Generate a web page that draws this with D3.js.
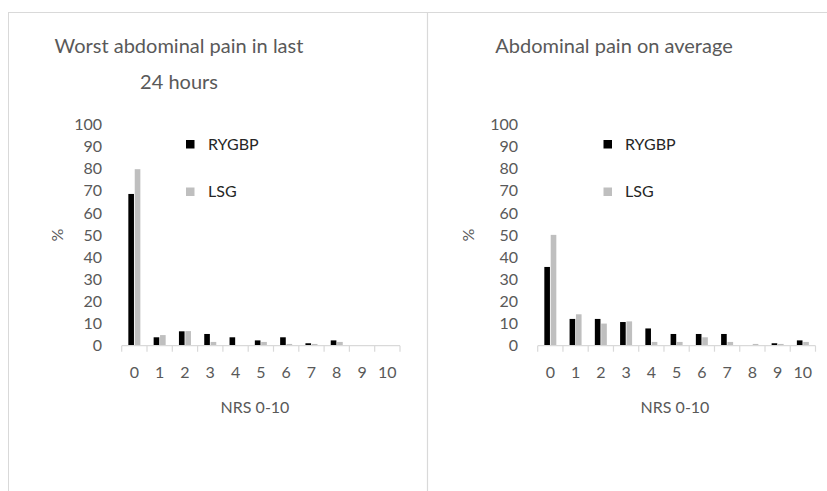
<!DOCTYPE html>
<html>
<head>
<meta charset="utf-8">
<script src="https://cdn.jsdelivr.net/npm/d3@7"></script>
<style>
  body { margin: 0; background: #fff; }
  svg { display: block; }
  text { font-family: Lato, "Open Sans", sans-serif; }
</style>
</head>
<body>
<svg id="chart" width="827" height="491"></svg>
<script>
// ---- Data ----
const categories = ["0","1","2","3","4","5","6","7","8","9","10"];
const seriesNames = ["RYGBP", "LSG"];
const worstRYGBP = [68.6, 3.8, 6.5, 5.3, 3.8, 2.4, 3.8, 1.1, 2.4, 0, 0];
const worstLSG   = [79.8, 4.8, 6.6, 1.7, 0, 1.7, 0.8, 0.8, 1.7, 0, 0];
const avgRYGBP   = [35.6, 12.1, 12.1, 10.7, 7.8, 5.3, 5.3, 5.3, 0, 1.1, 2.4];
const avgLSG     = [50.1, 14.2, 10.0, 11.0, 1.7, 1.7, 3.8, 1.7, 0.8, 0.8, 1.7];
const yTicks = [0,10,20,30,40,50,60,70,80,90,100];
const titles = [["Worst abdominal pain in last", "24 hours"], ["Abdominal pain on average"]];
const xTitle = "NRS 0-10";
const yTitle = "%";

const colors = { RYGBP: "#000000", LSG: "#bfbfbf" };

const svg = d3.select("#chart");

// Frame
svg.append("rect").attr("x", 8.5).attr("y", 12.5).attr("width", 840).attr("height", 500)
  .attr("fill", "none").attr("stroke", "#d9d9d9").attr("stroke-width", 1);
svg.append("line").attr("x1", 427.5).attr("x2", 427.5).attr("y1", 12.5).attr("y2", 491)
  .attr("stroke", "#d9d9d9").attr("stroke-width", 1.2);

const panels = [
  { x0: 121.7, x1: 400, titleX: 179, yLabX: 102, pctX: 57, legSq: 186, legTx: 208, series: [worstRYGBP, worstLSG], title: titles[0], xTitleX: 255 },
  { x0: 537.7, x1: 815.5, titleX: 614, yLabX: 518, pctX: 468, legSq: 603.5, legTx: 625, series: [avgRYGBP, avgLSG], title: titles[1], xTitleX: 675 }
];

const y = d3.scaleLinear().domain([0, 100]).range([345.7, 124.5]);

panels.forEach(p => {
  const g = svg.append("g");
  const x = d3.scaleBand().domain(categories).range([p.x0, p.x1]).paddingInner(0).paddingOuter(0);
  const groupW = x.bandwidth() * 0.475;
  const xs = d3.scaleBand().domain(seriesNames).range([0, groupW]).paddingInner(0.12);

  // Title
  p.title.forEach((t, i) => {
    g.append("text").attr("x", p.titleX).attr("y", 53 + i * 36)
      .attr("text-anchor", "middle").attr("font-size", 20).attr("fill", "#595959").text(t);
  });

  // Y axis labels (no line)
  const yAxis = d3.axisLeft(y).tickValues(yTicks).tickSize(0).tickPadding(0);
  const ya = g.append("g").attr("transform", `translate(${p.yLabX},0)`).call(yAxis);
  ya.select(".domain").remove();
  ya.selectAll("text").attr("font-size", 16).attr("fill", "#595959")
    .attr("font-family", "Lato, 'Open Sans', sans-serif");

  // Y title
  g.append("text").attr("transform", `translate(${p.pctX},235) rotate(-90)`)
    .attr("text-anchor", "middle").attr("dy", "0.35em").attr("font-size", 16).attr("fill", "#595959").text(yTitle);

  // Bars
  seriesNames.forEach((s, si) => {
    g.selectAll(null).data(p.series[si]).enter().append("rect")
      .attr("x", (d, i) => x(categories[i]) + (x.bandwidth() - groupW) / 2 + xs(s))
      .attr("width", xs.bandwidth())
      .attr("y", d => y(d))
      .attr("height", d => y(0) - y(d))
      .attr("fill", colors[s]);
  });

  // X axis
  const xAxis = d3.axisBottom(x).tickSize(0).tickPadding(21);
  const xa = g.append("g").attr("transform", `translate(0,${y(0)})`).call(xAxis);
  xa.select(".domain").attr("stroke", "#d9d9d9").attr("stroke-width", 1.2).attr("d", `M${p.x0},0H${p.x1}`);
  xa.selectAll("text").attr("font-size", 16).attr("fill", "#595959")
    .attr("font-family", "Lato, 'Open Sans', sans-serif");
  // category boundary tick marks
  const bounds = categories.map(c => x(c)).concat([p.x1]);
  xa.selectAll("line.bound").data(bounds).enter().append("line").attr("class", "bound")
    .attr("x1", d => d).attr("x2", d => d).attr("y1", 0).attr("y2", 6)
    .attr("stroke", "#d9d9d9").attr("stroke-width", 1.2);

  // X title
  g.append("text").attr("x", p.xTitleX).attr("y", 413).attr("text-anchor", "middle")
    .attr("font-size", 16).attr("fill", "#595959").text(xTitle);

  // Legend
  const legY = [144, 190];
  seriesNames.forEach((s, si) => {
    g.append("rect").attr("x", p.legSq).attr("y", legY[si] - 4 + (si ? 1.5 : 0)).attr("width", 8.5).attr("height", 8.5).attr("fill", colors[s]);
    g.append("text").attr("x", p.legTx).attr("y", legY[si] + (si ? 1.5 : 0)).attr("dy", "0.35em")
      .attr("font-size", 16).attr("fill", "#262626").text(s);
  });
});
</script>
</body>
</html>
